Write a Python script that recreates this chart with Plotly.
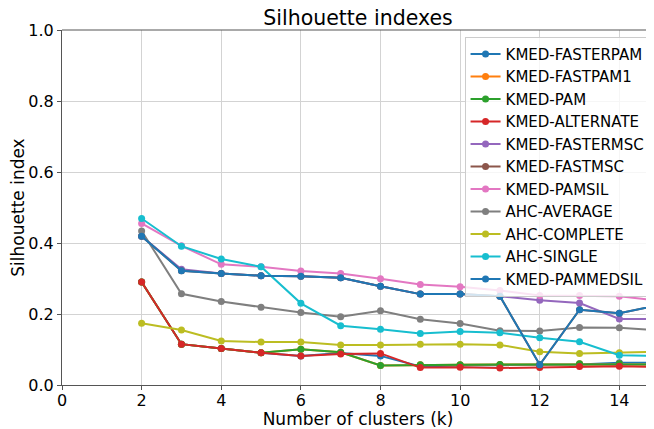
import plotly.graph_objects as go

k = [2, 3, 4, 5, 6, 7, 8, 9, 10, 11, 12, 13, 14, 15]

kmed_fasterpam = [0.290, 0.115, 0.103, 0.091, 0.082, 0.090, 0.082, 0.052, 0.055, 0.056, 0.057, 0.058, 0.063, 0.063]
kmed_fastpam1 = [0.290, 0.115, 0.103, 0.091, 0.101, 0.092, 0.055, 0.057, 0.057, 0.058, 0.058, 0.060, 0.060, 0.058]
kmed_pam = [0.290, 0.115, 0.103, 0.091, 0.101, 0.092, 0.055, 0.057, 0.057, 0.058, 0.058, 0.060, 0.060, 0.058]
kmed_alternate = [0.290, 0.115, 0.103, 0.091, 0.082, 0.087, 0.089, 0.049, 0.050, 0.048, 0.049, 0.052, 0.053, 0.051]
kmed_fastermsc = [0.419, 0.326, 0.314, 0.308, 0.306, 0.302, 0.278, 0.256, 0.256, 0.250, 0.239, 0.231, 0.186, 0.186]
kmed_fastmsc = [0.419, 0.322, 0.314, 0.308, 0.306, 0.302, 0.278, 0.256, 0.256, 0.250, 0.057, 0.212, 0.202, 0.225]
kmed_pamsil = [0.455, 0.392, 0.340, 0.333, 0.321, 0.314, 0.299, 0.283, 0.277, 0.266, 0.252, 0.252, 0.250, 0.237]
ahc_average = [0.434, 0.257, 0.235, 0.219, 0.204, 0.192, 0.209, 0.185, 0.173, 0.153, 0.152, 0.162, 0.161, 0.154]
ahc_complete = [0.174, 0.155, 0.124, 0.121, 0.121, 0.113, 0.113, 0.115, 0.115, 0.113, 0.094, 0.089, 0.091, 0.094]
ahc_single = [0.469, 0.391, 0.355, 0.333, 0.230, 0.167, 0.157, 0.145, 0.151, 0.147, 0.133, 0.122, 0.084, 0.082]
kmed_pammedsil = [0.419, 0.322, 0.314, 0.308, 0.306, 0.302, 0.278, 0.256, 0.256, 0.250, 0.057, 0.212, 0.202, 0.225]

series = [
    ("KMED-FASTERPAM", kmed_fasterpam, "#1f77b4"),
    ("KMED-FASTPAM1", kmed_fastpam1, "#ff7f0e"),
    ("KMED-PAM", kmed_pam, "#2ca02c"),
    ("KMED-ALTERNATE", kmed_alternate, "#d62728"),
    ("KMED-FASTERMSC", kmed_fastermsc, "#9467bd"),
    ("KMED-FASTMSC", kmed_fastmsc, "#8c564b"),
    ("KMED-PAMSIL", kmed_pamsil, "#e377c2"),
    ("AHC-AVERAGE", ahc_average, "#7f7f7f"),
    ("AHC-COMPLETE", ahc_complete, "#bcbd22"),
    ("AHC-SINGLE", ahc_single, "#17becf"),
    ("KMED-PAMMEDSIL", kmed_pammedsil, "#1f77b4"),
]

x_ticks = [0, 2, 4, 6, 8, 10, 12, 14]
y_ticks = [0.0, 0.2, 0.4, 0.6, 0.8, 1.0]

fig = go.Figure()
for name, vals, col in series:
    fig.add_trace(go.Scatter(
        x=k, y=vals, name=name, mode="lines+markers",
        line=dict(color=col, width=2),
        marker=dict(color=col, size=7),
    ))

font_family = "DejaVu Sans"
spine = "#555555"
grid = "#d3d3d3"

# The page body adds an 8px offset; the figure is sized to the visible window area.
W, H = 646, 421
fig.update_layout(
    width=W, height=H,
    margin=dict(l=54, r=0, t=22, b=44),
    paper_bgcolor="white", plot_bgcolor="white",
    font=dict(family=font_family, size=16, color="black"),
    title=dict(text="Silhouette indexes", x=(54 + W) / 2 / W, xanchor="center",
               y=1 - 10 / H, yanchor="middle", font=dict(size=20.5)),
    showlegend=True,
    legend=dict(
        x=0.68, y=0.981, xanchor="left", yanchor="top",
        bgcolor="rgba(255,255,255,0.8)", bordercolor="#cccccc", borderwidth=1,
        font=dict(size=15), itemwidth=30, tracegroupgap=0,
    ),
    shapes=[dict(type="line", xref="paper", yref="paper", x0=0, x1=1, y0=1, y1=1,
                 line=dict(color=spine, width=1))],
)
fig.update_xaxes(
    range=[0, 14.87], tickvals=x_ticks, ticktext=[str(t) for t in x_ticks],
    showgrid=True, gridcolor=grid, gridwidth=1, zeroline=False,
    showline=True, linecolor=spine, linewidth=1,
    ticks="outside", ticklen=4, tickcolor=spine,
    tickfont=dict(size=16),
    title=dict(text="Number of clusters (k)", standoff=2, font=dict(size=17)),
)
fig.update_yaxes(
    range=[0, 1], tickvals=y_ticks, ticktext=[f"{t:.1f}" for t in y_ticks],
    showgrid=True, gridcolor=grid, gridwidth=1, zeroline=False,
    showline=True, linecolor=spine, linewidth=1,
    ticks="outside", ticklen=4, tickcolor=spine,
    tickfont=dict(size=16),
    title=dict(text="Silhouette index", standoff=5, font=dict(size=17)),
)
try:
    fig.update_xaxes(ticklabelstandoff=-3)
except Exception:
    pass

fig.write_html("out.html")
